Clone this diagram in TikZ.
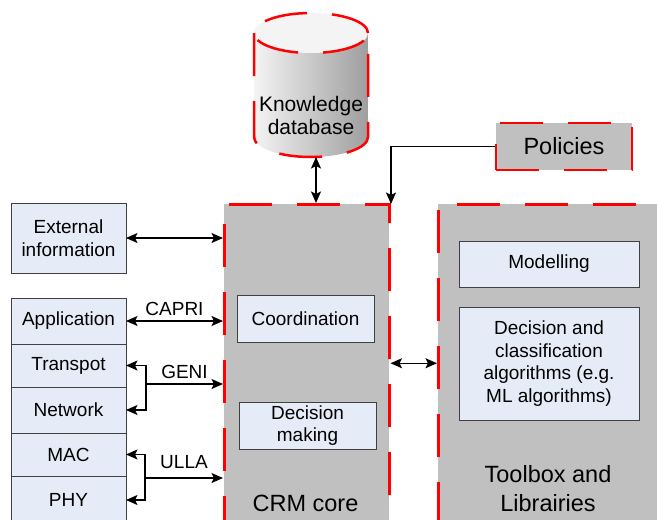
\documentclass[tikz,border=0pt]{standalone}
\usepackage{fontspec}
\setmainfont{Liberation Sans}
\usetikzlibrary{arrows.meta, positioning}

\definecolor{panelgray}{RGB}{192,192,192}
\definecolor{boxfill}{RGB}{230,236,247}
\definecolor{boxline}{RGB}{64,64,64}
\definecolor{dbleft}{RGB}{244,244,244}
\definecolor{dbright}{RGB}{158,158,158}

\tikzset{
  reddash/.style={draw=red, line width=2.5pt, dash pattern=on 43pt off 25pt},
  panel/.style={reddash, fill=panelgray, inner sep=0pt},
  infobox/.style={draw=boxline, fill=boxfill, line width=0.9pt, align=center,
    inner sep=2pt, font=\fontsize{19}{22.7}\selectfont},
  layer/.style={infobox, minimum width=115pt, outer sep=0pt},
  biglabel/.style={font=\fontsize{23.5}{29}\selectfont, align=center},
  lbl/.style={font=\fontsize{19}{22.7}\selectfont, inner sep=0pt}
}

\begin{document}
\begin{tikzpicture}[x=1pt, y=-1pt, >={Stealth[length=11.5pt,width=10pt,inset=2.5pt]},
  line width=1.4pt, node distance=0pt]
\useasboundingbox (0,0) rectangle (657,520);

% define the knowledge database
  \shade[left color=dbleft, right color=dbright] (254,33) -- (254,137)
    arc[start angle=180, end angle=360, x radius=57pt, y radius=20pt] -- (368,33) -- cycle;
  \fill[dbleft] (311,33) ellipse[x radius=57pt, y radius=20pt];
  \draw[reddash] (311,33) ellipse[x radius=57pt, y radius=20pt];
  \draw[reddash] (254,33) -- (254,137)
    arc[start angle=180, end angle=360, x radius=57pt, y radius=20pt] -- (368,33);
  \node[font=\fontsize{21}{23}\selectfont, align=center] (kdb) at (311,115) {Knowledge\\database};
  \coordinate (kdbbot) at (316,157);

% define the panels
  \node[panel, minimum width=165pt, minimum height=330pt, anchor=north west] (crm) at (223,203) {};
  \node[panel, minimum width=240pt, minimum height=330pt, anchor=north west] (tlb) at (437,203) {};
  \node[panel, biglabel, minimum width=136pt, minimum height=47pt] (pol) at (564,146.5) {Policies};
  \node[biglabel] (crmlbl) at (305.5,503) {CRM core};
  \node[biglabel] (tlblbl) at (548,489) {Toolbox and\\Librairies};

% define the inner boxes
  \node[infobox, minimum width=137pt, minimum height=47pt] (coord) at (305.5,318.5) {Coordination};
  \node[infobox, minimum width=137pt, minimum height=47pt] (dec) at (307.5,425.5) {Decision\\making};
  \node[infobox, minimum width=180pt, minimum height=46pt] (model) at (549,264) {Modelling};
  \node[infobox, minimum width=180pt, minimum height=113pt] (algo) at (549,363.5)
    {Decision and\\classification\\algorithms (e.g.\\ML algorithms)};

% define the protocol stack
  \node[layer, minimum height=70pt] (ext) at (68.5,238) {External\\information};
  \node[layer, minimum height=46pt] (app) at (68.5,321) {Application};
  \node[layer, minimum height=43pt, below=of app] (trn) {Transpot};
  \node[layer, minimum height=46pt, below=of trn] (net) {Network};
  \node[layer, minimum height=43pt, below=of net] (mac) {MAC};
  \node[layer, minimum height=48pt, below=of mac] (phy) {PHY};

% define the links
  \coordinate (poltip) at (391,204);
  \coordinate (genij) at (146,384);
  \coordinate (ullaj) at (145,478);
  \draw[<->] (kdbbot) -- (kdbbot |- crm.north);
  \draw[->] (pol.west) -| (poltip);
  \draw[<->] (ext.east) -- (ext.east -| crm.west);
  \draw[<->] (app.east) -- (app.east -| crm.west) node[lbl, midway, above=5pt] {CAPRI};
  \draw[->] (genij) |- (trn.east);
  \draw[->] (genij) |- (net.east);
  \draw[->] (genij) -- (genij -| crm.west) node[lbl, midway, above=5pt] {GENI};
  \draw[->] (ullaj) |- (mac.east);
  \draw[->] (ullaj) |- (phy.east);
  \draw[->] (ullaj) -- (ullaj -| crm.west) node[lbl, midway, above=9pt] {ULLA};
  \draw[<->] ([yshift=6pt]crm.east) -- ([yshift=6pt]crm.east -| tlb.west);

\end{tikzpicture}
\end{document}
